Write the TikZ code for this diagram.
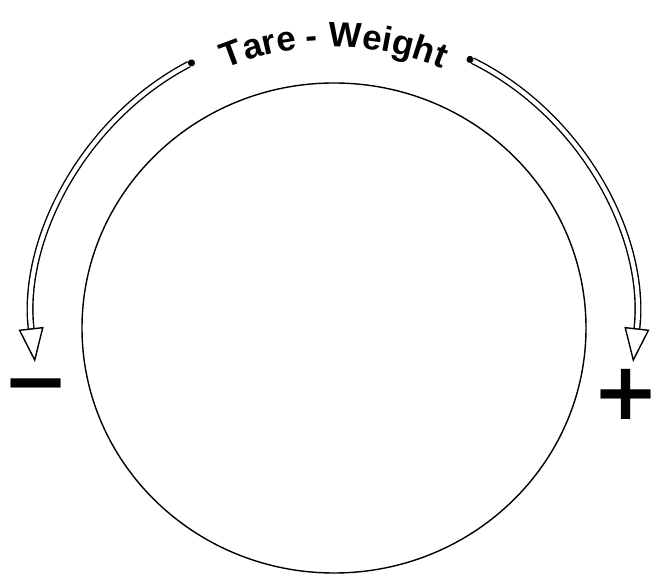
\documentclass[tikz,border=0pt]{standalone}
\usepackage{fontspec}
\setmainfont{Liberation Sans}
\newfontfamily\signfont{DejaVu Sans}
\usetikzlibrary{arrows.meta,decorations.text,calc}
\begin{document}
\begin{tikzpicture}[x=1pt,y=1pt,
  dial/.style={line width=1.4pt},
  hollowarrow/.style={double=white, double distance=4.2pt, line width=1.4pt,
     {Circle[length=7pt,width=7pt]}-{Triangle[open,length=34pt,width=25pt,line width=1.4pt]}},
  sign/.style={font=\signfont\bfseries\fontsize{80}{80}\selectfont, inner sep=0pt}]
\useasboundingbox (0,0) rectangle (655,577);
\coordinate (C) at (334,249);
\draw[dial] (C) ellipse[x radius=252, y radius=245];
\coordinate (L0) at ($(C)+(117.6:301)$);
\coordinate (R0) at ($(C)+(63.8:301)$);
\draw[hollowarrow] (L0) arc[start angle=117.6, end angle=186.5, radius=301];
\draw[hollowarrow] (R0) arc[start angle=63.8, end angle=-6.5, radius=301];
\coordinate (T0) at ($(C)+(125:281)$);
\path[decorate, decoration={text along path, text align=center,
  text={|\bfseries\fontsize{35}{35}\selectfont|Tare - Weight}}]
  (T0) arc[start angle=125, end angle=55, radius=281];
\node[sign] (minus) at (36,183) {\makebox[52pt]{−}};
\node[sign] (plus) at (626,183) {\makebox[52pt]{+}};
\end{tikzpicture}
\end{document}
